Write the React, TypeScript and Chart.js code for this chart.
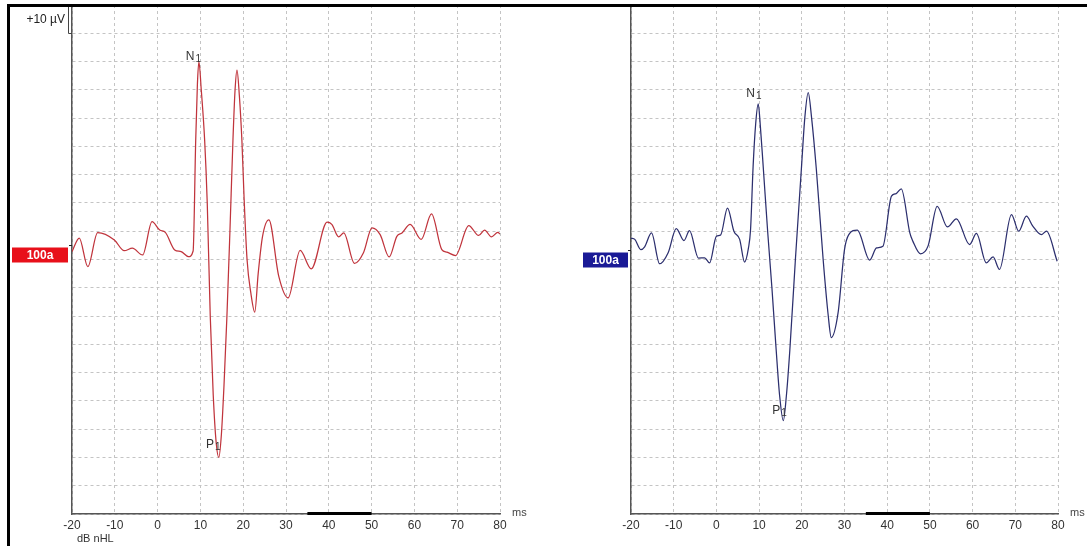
import React, { useEffect, useRef } from "react";
import { Chart, registerables } from "chart.js";

Chart.register(...registerables);

// ---------- data ----------
const timeTicks = [-20, -10, 0, 10, 20, 30, 40, 50, 60, 70, 80];
const traceLabel = "100a";
const markerBar = [35, 50];

const leftTimes = [
  -20, -18.3, -16.3, -14.0, -10.1, -7.8, -5.9, -3.5, -1.3, 0.5, 1.8, 4.0, 5.5, 7.2, 8.3, 8.9,
  9.3, 9.65, 10.2, 11.0, 11.6, 12.3, 13.0, 13.7, 14.3, 14.9, 15.5, 16.2, 16.9, 17.6, 18.1,
  18.55, 19.1, 19.7, 20.2, 20.9, 21.8, 22.7, 23.5, 24.5, 26.0, 28.3, 30.5, 33.3, 35.9, 39.6,
  40.7, 42.3, 43.5, 46.0, 48.1, 50.1, 52.0, 54.1, 55.9, 57.1, 59.0, 61.6, 64.0, 66.4, 67.6,
  69.6, 72.7, 75.0, 76.4, 78.0, 79.5, 80,
];
const leftValues = [
  2.8, 7.6, -2.5, 9.5, 6.9, 3.1, 4.0, 1.6, 13.4, 10.4, 9.6, 3.4, 2.8, 1.0, 3, 42,
  62, 70, 60, 42, 20, -20, -48, -65, -70, -62, -45, -20, 10, 42, 60,
  67, 58, 42, 22, 0, -12, -18.6, -5, 8, 14, -5.9, -13.6, 3.2, -3.3, 13.2,
  12.4, 8.0, 9.4, -1.4, 2.4, 11.2, 8.8, 0.9, 8.2, 9.4, 12.4, 7.1, 16.1, 3.5, 2.6,
  1.4, 12.0, 8.5, 10.4, 8.0, 9.6, 9.0,
];

const rightTimes = [
  -20, -19.1, -17.7, -16.8, -15.2, -13.3, -11.3, -9.4, -7.6, -6.3, -4.2, -2.75, -1.6, 0.0,
  1.0, 2.6, 4.1, 5.45, 6.6, 7.5, 8.0, 8.6, 9.2, 9.8, 10.3, 11.0, 12.0, 13.0, 14.0, 14.8,
  15.67, 16.4, 17.2, 18.5, 19.9, 20.7, 21.5, 22.3, 23.4, 25.0, 26.2, 26.9, 28.5, 30.0, 31.0,
  33.0, 35.9, 37.5, 39.0, 41.0, 42.1, 43.3, 45.3, 46.0, 47.8, 49.6, 51.7, 54.1, 56.2, 59.3,
  60.9, 63.2, 64.8, 66.3, 69.1, 70.8, 72.6, 74.1, 76.1, 77.3, 79.8,
];
const rightValues = [
  7.6, 7.1, 3.5, 4.5, 9.4, -1.5, 2.4, 10.9, 6.7, 10.2, 0.5, 0.6, -1.2, 8.2,
  8.7, 18.2, 10, 7.1, -0.9, 4, 10.6, 33, 48, 55, 47, 32, 10, -10, -32, -48,
  -57, -48, -32, 0, 32, 50, 59, 50, 32, 0, -20, -27.6, -18.8, 3.5, 8.8,
  10.4, -0.2, 4.1, 4.7, 22.4, 23.3, 25, 9.4, 6.5, 2, 4.9, 18.8, 11.5, 14.4, 5.3,
  9.2, -1.2, 0.9, -3.5, 15.9, 10, 15.3, 11.8, 8.8, 10, -0.6,
];

const FONT = '"Liberation Sans", Arial, sans-serif';

type Mark = { letter: string; sub: string; t: number; v: number };
type Panel = {
  baseline: number;
  boxColor: string;
  boxWidth: number;
  boxGap: number;
  marks: Mark[];
  scaleBar: boolean;
  dbLabel: boolean;
};

function decorPlugin(p: Panel) {
  return {
    id: "panelDecor",
    afterDraw(chart: any) {
      const { ctx, chartArea: a, scales } = chart;
      const xs = scales.x;
      const ys = scales.y;
      ctx.save();
      // marker bar on x axis
      const bx0 = xs.getPixelForValue(markerBar[0]);
      const bx1 = xs.getPixelForValue(markerBar[1]);
      ctx.fillStyle = "#000";
      ctx.fillRect(bx0, a.bottom - 2, bx1 - bx0, 3);
      // "ms" unit
      ctx.fillStyle = "#444";
      ctx.font = "11px " + FONT;
      ctx.textAlign = "left";
      ctx.textBaseline = "middle";
      ctx.fillText("ms", a.right + 12, a.bottom - 1);
      // baseline tick
      const by = Math.round(ys.getPixelForValue(p.baseline)) + 0.5;
      ctx.strokeStyle = "#222";
      ctx.lineWidth = 1;
      ctx.beginPath();
      ctx.moveTo(a.left - 3, by);
      ctx.lineTo(a.left, by);
      ctx.stroke();
      // label box
      const bxl = a.left - p.boxGap - p.boxWidth;
      ctx.fillStyle = p.boxColor;
      ctx.fillRect(bxl, by + 2, p.boxWidth, 15);
      ctx.fillStyle = "#fff";
      ctx.font = "bold 12px " + FONT;
      ctx.textAlign = "center";
      ctx.textBaseline = "middle";
      ctx.fillText(traceLabel, bxl + p.boxWidth / 2, by + 10);
      // peak labels
      for (const m of p.marks) {
        const x = xs.getPixelForValue(m.t);
        const y = ys.getPixelForValue(m.v);
        ctx.fillStyle = "#333";
        ctx.textAlign = "left";
        ctx.textBaseline = "alphabetic";
        ctx.font = "12px " + FONT;
        ctx.fillText(m.letter, x, y);
        const w = ctx.measureText(m.letter).width;
        ctx.font = "10px " + FONT;
        ctx.fillText(m.sub, x + w + 1, y + 2);
      }
      if (p.scaleBar) {
        const y80 = Math.round(ys.getPixelForValue(80)) + 0.5;
        ctx.strokeStyle = "#444";
        ctx.beginPath();
        ctx.moveTo(a.left - 3.5, a.top);
        ctx.lineTo(a.left - 3.5, y80);
        ctx.lineTo(a.left, y80);
        ctx.stroke();
        ctx.fillStyle = "#222";
        ctx.font = "12px " + FONT;
        ctx.textAlign = "right";
        ctx.textBaseline = "middle";
        ctx.fillText("+10 µV", a.left - 7, a.top + 15);
      }
      if (p.dbLabel) {
        ctx.fillStyle = "#333";
        ctx.font = "11px " + FONT;
        ctx.textAlign = "left";
        ctx.textBaseline = "middle";
        ctx.fillText("dB nHL", a.left + 5, a.bottom + 25);
      }
      ctx.restore();
    },
  };
}

function makeConfig(
  times: number[],
  values: number[],
  color: string,
  axisWidth: number,
  padRight: number,
  panel: Panel
): any {
  return {
    type: "line",
    data: {
      datasets: [
        {
          data: times.map((t, i) => ({ x: t, y: values[i] })),
          borderColor: color,
          borderWidth: 1.25,
          pointRadius: 0,
          fill: false,
          cubicInterpolationMode: "monotone",
        },
      ],
    },
    options: {
      responsive: false,
      animation: false,
      events: [],
      layout: { padding: { left: 0, top: 5, right: padRight, bottom: 0 } },
      plugins: { legend: { display: false }, tooltip: { enabled: false } },
      scales: {
        x: {
          type: "linear",
          min: timeTicks[0],
          max: timeTicks[timeTicks.length - 1],
          afterBuildTicks: (s: any) => {
            s.ticks = timeTicks.map((v) => ({ value: v }));
          },
          afterFit: (s: any) => {
            s.height = 32;
          },
          ticks: {
            autoSkip: false,
            maxRotation: 0,
            padding: 4,
            color: "#333",
            font: { size: 12, family: FONT },
          },
          grid: { color: "#c4c4c4", lineWidth: 1, drawTicks: false },
          border: { color: "#555", width: 1.5, dash: [3, 3] },
        },
        y: {
          type: "linear",
          min: -90,
          max: 90,
          ticks: { stepSize: 10, display: false },
          afterFit: (s: any) => {
            s.width = axisWidth;
          },
          grid: { color: "#c4c4c4", lineWidth: 1, drawTicks: false },
          border: { color: "#555", width: 1.5, dash: [3, 3] },
        },
      },
    },
    plugins: [decorPlugin(panel)],
  };
}

const leftPanel: Panel = {
  baseline: 5,
  boxColor: "#e8101a",
  boxWidth: 56,
  boxGap: 4,
  marks: [
    { letter: "N", sub: "1", t: 6.6, v: 70.4 },
    { letter: "P", sub: "1", t: 11.3, v: -66.5 },
  ],
  scaleBar: true,
  dbLabel: true,
};

const rightPanel: Panel = {
  baseline: 3.4,
  boxColor: "#1a1a96",
  boxWidth: 45,
  boxGap: 3,
  marks: [
    { letter: "N", sub: "1", t: 7.0, v: 57.6 },
    { letter: "P", sub: "1", t: 13.1, v: -54.5 },
  ],
  scaleBar: false,
  dbLabel: false,
};

export default function App() {
  const leftRef = useRef<HTMLCanvasElement>(null);
  const rightRef = useRef<HTMLCanvasElement>(null);

  useEffect(() => {
    const c1 = new Chart(
      leftRef.current as HTMLCanvasElement,
      makeConfig(leftTimes, leftValues, "#c0343c", 72, 40, leftPanel)
    );
    const c2 = new Chart(
      rightRef.current as HTMLCanvasElement,
      makeConfig(rightTimes, rightValues, "#2c2f6e", 91, 29, rightPanel)
    );
    return () => {
      c1.destroy();
      c2.destroy();
    };
  }, []);

  return (
    <div
      style={{
        position: "absolute",
        left: 0,
        top: 0,
        width: 1087,
        height: 546,
        background: "#fff",
        overflow: "hidden",
      }}
    >
      <canvas
        ref={leftRef}
        width={540}
        height={546}
        style={{ position: "absolute", left: 0, top: 0, width: 540, height: 546 }}
      />
      <canvas
        ref={rightRef}
        width={547}
        height={546}
        style={{ position: "absolute", left: 540, top: 0, width: 547, height: 546 }}
      />
      <div style={{ position: "absolute", left: 7, top: 4, width: 1080, height: 3, background: "#000" }} />
      <div style={{ position: "absolute", left: 7, top: 4, width: 3, height: 542, background: "#000" }} />
    </div>
  );
}
